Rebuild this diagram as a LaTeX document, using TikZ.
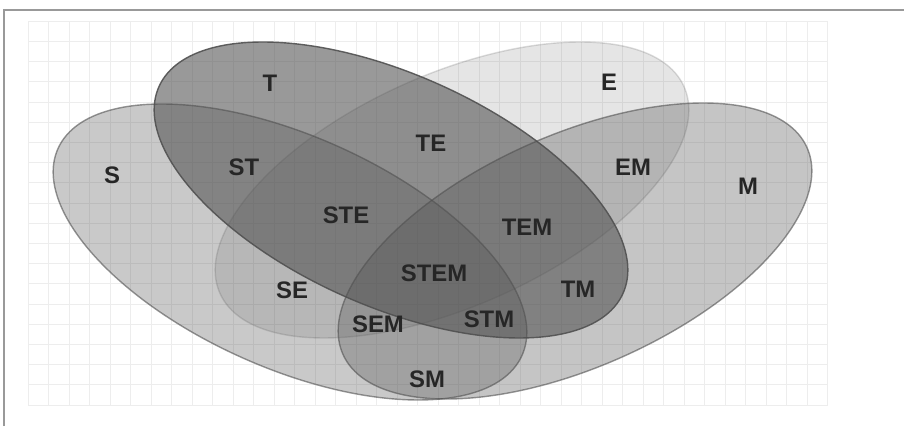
\documentclass[tikz,border=0pt]{standalone}
\usepackage{fontspec}
\setmainfont{Liberation Sans}

\definecolor{fuellgrau}{RGB}{80,80,80}

\tikzset{
	menge/.style={draw=fuellgrau, fill=fuellgrau, line width=1pt},
	feld/.style={font=\bfseries\fontsize{17}{20}\selectfont, text=black!85, inner sep=0pt},
	gitter/.style={draw=black!7, line width=0.6pt},
	rahmen/.style={draw=black!40, line width=1.1pt}
}

\begin{document}
\begin{tikzpicture}
		
		\path[use as bounding box] (0,0) rectangle (22.6,10.65);
		
		% Rahmen oben und links
		\draw[rahmen] (0.1,0) -- (0.1,10.4) -- (22.6,10.4);
		
		% Gitter im Hintergrund
		\draw[gitter, shift={(0.7,0.525)}] (0,0) grid[xstep=0.5125,ystep=0.505] (19.99,9.6);
		
		
		% Mengen S, T, E, M
		\draw[menge, fill opacity=0.31, draw opacity=0.6, rotate around={-24:(7.25,4.35)}] (7.25,4.35) ellipse (6.35 and 2.9);
		\draw[menge, fill opacity=0.58, draw opacity=0.9, rotate around={-24:(9.775,5.9)}] (9.775,5.9) ellipse (6.35 and 2.9);
		\draw[menge, fill opacity=0.15, draw opacity=0.2, rotate around={24:(11.3,5.9)}] (11.3,5.9) ellipse (6.35 and 2.9);
		\draw[menge, fill opacity=0.33, draw opacity=0.6, rotate around={24:(14.375,4.375)}] (14.375,4.375) ellipse (6.35 and 2.9);
		
		
		% Einzelne Mengen beschriften
		\node[feld] (s) at (2.8,6.275) {S};
		\node[feld] (t) at (6.75,8.575) {T};
		\node[feld] (e) at (15.225,8.6) {E};
		\node[feld] (m) at (18.7,6.0) {M};
		
		% Schnittmengen beschriften
		\node[feld] (st) at (6.1,6.475) {ST};
		\node[feld] (te) at (10.775,7.075) {TE};
		\node[feld] (em) at (15.825,6.475) {EM};
		\node[feld] (ste) at (8.65,5.275) {STE};
		\node[feld] (tem) at (13.175,4.975) {TEM};
		\node[feld] (stem) at (10.85,3.825) {STEM};
		\node[feld] (se) at (7.3,3.4) {SE};
		\node[feld] (tm) at (14.45,3.425) {TM};
		\node[feld] (sem) at (9.45,2.55) {SEM};
		\node[feld] (stm) at (12.225,2.675) {STM};
		\node[feld] (sm) at (10.675,1.175) {SM};
		
		
	\end{tikzpicture}
\end{document}
